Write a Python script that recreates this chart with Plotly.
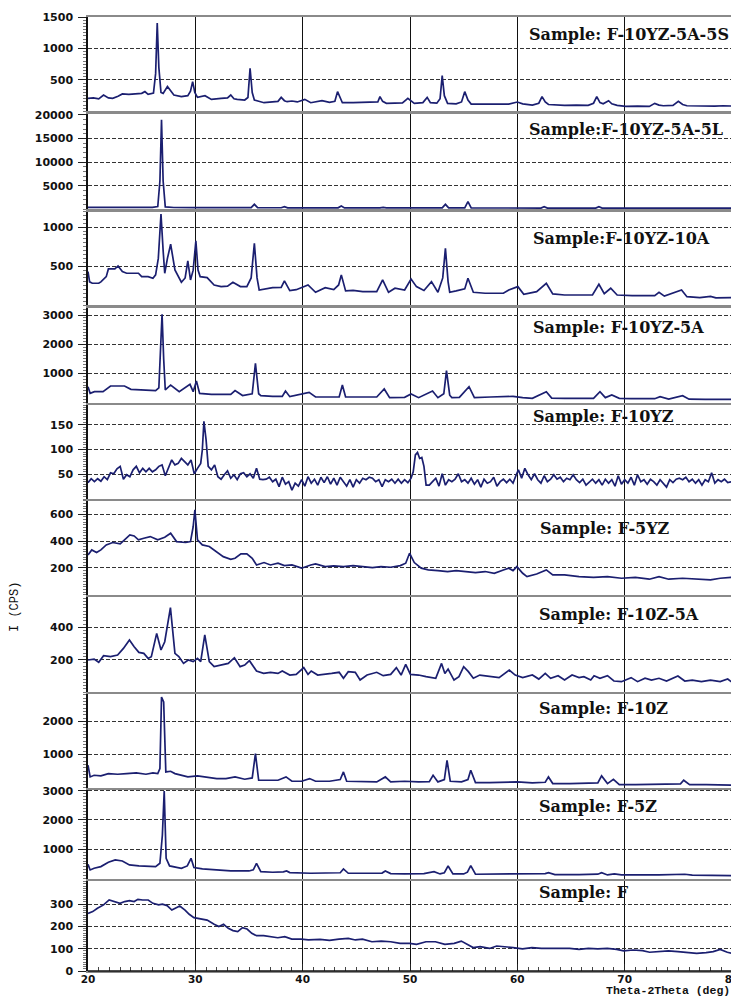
import plotly.graph_objects as go

# ---------------- data: (2theta [deg], intensity [CPS]) ----------------
F_10YZ_5A_5S = [(20.0,207),(20.5,215),(21.0,200),(21.45,260),(21.9,215),(22.3,207),(22.8,240),(23.2,277),(23.8,270),(24.4,280),(25.0,287),(25.3,314),(25.6,270),(26.1,290),(26.3,600),(26.45,1405),(26.6,700),(26.8,300),(27.0,287),(27.4,394),(27.8,300),(28.0,260),(28.7,234),(29.3,250),(29.55,320),(29.75,473),(29.95,300),(30.2,223),(30.9,250),(31.5,190),(32.4,207),(33.0,215),(33.3,260),(33.6,200),(33.9,191),(34.6,181),(34.9,220),(35.1,686),(35.3,300),(35.5,181),(36.4,138),(37.2,154),(37.7,160),(38.0,223),(38.3,170),(38.55,154),(39.0,165),(39.5,150),(40.2,191),(40.75,138),(41.8,170),(42.5,145),(43.0,160),(43.25,314),(43.5,200),(43.7,138),(44.7,138),(45.5,140),(46.4,138),(47.0,150),(47.2,234),(47.45,160),(47.8,128),(48.6,138),(49.3,135),(49.8,207),(50.4,128),(51.2,140),(51.6,223),(51.9,140),(52.5,130),(52.8,200),(53.0,569),(53.2,250),(53.5,128),(54.3,120),(54.8,150),(55.1,314),(55.4,180),(55.7,117),(57.0,117),(58.0,125),(59.2,117),(60.0,149),(60.5,120),(61.4,101),(62.0,130),(62.3,234),(62.6,150),(62.9,110),(64.4,96),(65.5,100),(66.6,96),(67.1,130),(67.4,234),(67.7,140),(68.0,120),(68.5,170),(68.8,120),(69.3,96),(70.1,80),(71.2,85),(72.3,80),(72.8,128),(73.2,100),(73.6,90),(74.5,95),(75.0,160),(75.4,110),(75.8,90),(76.7,85),(77.5,88),(78.4,85),(79.2,90),(80.0,85)]

F_10YZ_5A_5L = [(20.0,400),(22.0,380),(24.0,400),(26.0,420),(26.5,600),(26.7,6000),(26.85,19000),(27.0,6000),(27.2,500),(28.0,380),(30.0,350),(32.0,330),(35.2,340),(35.5,1050),(35.8,340),(38.0,330),(38.3,560),(38.6,320),(40.0,300),(43.3,310),(43.6,700),(43.9,300),(47.2,290),(47.5,420),(47.8,290),(50.0,290),(53.0,300),(53.3,1050),(53.6,290),(55.1,300),(55.4,1620),(55.7,290),(58.0,280),(60.0,290),(62.2,270),(62.5,560),(62.8,270),(65.0,260),(67.3,260),(67.6,560),(67.9,260),(70.0,250),(75.0,250),(80.0,240)]

F_10YZ_10A = [(20.0,431),(20.15,300),(20.4,282),(21.0,282),(21.2,300),(21.7,367),(21.9,465),(22.3,470),(22.5,465),(22.8,504),(23.2,431),(23.6,410),(24.2,410),(24.7,410),(25.0,367),(25.6,367),(26.05,346),(26.3,389),(26.55,600),(26.8,1166),(27.0,700),(27.15,410),(27.4,600),(27.7,781),(28.1,453),(28.7,295),(29.05,350),(29.3,568),(29.55,324),(29.8,450),(30.05,824),(30.25,450),(30.45,367),(31.1,354),(31.75,260),(32.4,239),(33.0,245),(33.5,295),(34.2,240),(34.8,238),(35.2,350),(35.5,794),(35.75,350),(35.95,196),(37.2,226),(38.0,230),(38.3,312),(38.8,188),(39.4,200),(40.5,260),(41.2,167),(42.1,226),(42.9,200),(43.35,260),(43.6,389),(43.85,240),(44.0,184),(44.7,190),(45.6,175),(46.9,175),(47.45,324),(48.0,167),(48.6,218),(49.5,196),(50.1,337),(50.6,239),(51.3,190),(52.0,303),(52.6,167),(53.05,350),(53.3,730),(53.55,300),(53.7,167),(54.3,184),(55.1,210),(55.4,346),(55.9,167),(57.0,154),(58.7,154),(59.2,196),(60.05,239),(60.6,141),(61.8,175),(62.7,282),(63.3,145),(64.4,132),(67.0,132),(67.6,269),(68.1,150),(68.7,218),(69.3,132),(70.7,124),(72.8,124),(73.2,167),(73.7,118),(75.3,196),(75.8,110),(77.0,98),(78.0,115),(78.5,95),(80.0,98)]

F_10YZ_5A = [(20.0,543),(20.2,314),(20.6,371),(21.4,371),(22.1,566),(23.4,566),(24.0,451),(25.0,440),(26.3,406),(26.6,500),(26.8,2000),(26.9,3023),(27.05,1500),(27.2,429),(27.7,600),(28.5,371),(29.5,623),(29.8,371),(30.1,737),(30.4,314),(31.5,280),(33.3,280),(33.7,406),(34.4,240),(35.3,300),(35.6,1343),(35.9,300),(36.1,234),(37.2,211),(38.1,211),(38.4,394),(38.8,200),(40.6,349),(41.2,189),(43.4,189),(43.7,600),(44.0,189),(46.9,189),(47.6,463),(48.1,166),(49.5,178),(50.1,291),(50.8,166),(52.1,394),(52.6,166),(53.15,300),(53.4,1091),(53.7,250),(53.9,166),(54.6,178),(55.5,543),(56.0,166),(57.5,189),(59.6,210),(60.5,170),(61.4,143),(62.7,371),(63.2,150),(64.4,143),(67.1,143),(67.7,371),(68.2,166),(68.8,257),(69.5,143),(70.6,131),(72.8,131),(73.3,200),(74.1,120),(75.4,234),(76.0,115),(77.5,109),(80.0,109)]

F_10YZ = [(20.0,33),(20.3,41),(20.6,35),(20.9,41),(21.2,36),(21.5,45),(21.8,39),(22.1,53),(22.4,51),(22.7,61),(23.0,66),(23.3,40),(23.6,49),(23.9,45),(24.2,59),(24.5,66),(24.8,53),(25.1,62),(25.4,55),(25.7,62),(26.0,55),(26.3,59),(26.6,66),(26.9,69),(27.2,47),(27.5,62),(27.8,79),(28.1,69),(28.4,72),(28.7,82),(29.0,76),(29.3,69),(29.6,79),(29.9,51),(30.2,62),(30.5,72),(30.65,99),(30.8,157),(31.0,120),(31.2,66),(31.5,59),(31.8,69),(32.1,45),(32.4,40),(32.7,49),(33.0,57),(33.3,42),(33.6,49),(33.9,39),(34.2,51),(34.5,53),(34.8,45),(35.1,51),(35.4,42),(35.7,62),(36.0,40),(36.3,39),(36.6,40),(36.9,44),(37.2,35),(37.5,40),(37.8,25),(38.1,44),(38.4,30),(38.7,35),(39.0,18),(39.3,32),(39.6,26),(39.9,39),(40.2,26),(40.5,45),(40.8,32),(41.1,40),(41.4,28),(41.7,44),(42.0,33),(42.3,45),(42.6,30),(42.9,42),(43.2,28),(43.5,44),(43.8,35),(44.1,26),(44.4,39),(44.7,24),(45.0,39),(45.3,32),(45.6,42),(45.9,39),(46.2,44),(46.5,42),(46.8,35),(47.1,39),(47.4,25),(47.7,39),(48.0,35),(48.3,40),(48.6,32),(48.9,40),(49.2,32),(49.5,39),(49.8,33),(50.1,42),(50.3,55),(50.5,89),(50.7,94),(50.9,82),(51.1,84),(51.3,66),(51.5,28),(51.8,28),(52.1,35),(52.4,42),(52.7,26),(53.0,51),(53.3,28),(53.6,39),(53.9,35),(54.2,40),(54.5,51),(54.8,35),(55.1,39),(55.4,32),(55.7,42),(56.0,30),(56.3,39),(56.6,24),(56.9,40),(57.2,32),(57.5,35),(57.8,44),(58.1,26),(58.4,35),(58.7,40),(59.0,33),(59.3,40),(59.6,32),(59.9,49),(60.1,59),(60.4,42),(60.7,62),(61.0,49),(61.3,39),(61.6,51),(61.9,39),(62.2,32),(62.5,47),(62.8,35),(63.1,40),(63.4,49),(63.7,40),(64.0,44),(64.3,35),(64.6,42),(64.9,39),(65.2,49),(65.5,39),(65.8,33),(66.1,40),(66.4,28),(66.7,35),(67.0,40),(67.3,32),(67.6,39),(67.9,28),(68.2,40),(68.5,32),(68.8,39),(69.1,26),(69.4,47),(69.7,30),(70.0,39),(70.3,32),(70.6,44),(70.9,28),(71.2,49),(71.5,35),(71.8,39),(72.1,30),(72.4,40),(72.7,35),(73.0,28),(73.3,39),(73.6,32),(73.9,24),(74.2,39),(74.5,33),(74.8,40),(75.1,42),(75.4,39),(75.7,44),(76.0,35),(76.3,40),(76.6,32),(76.9,39),(77.2,28),(77.5,39),(77.8,35),(78.1,53),(78.4,32),(78.7,39),(79.0,35),(79.3,40),(79.6,33),(80.0,35)]

F_5YZ = [(20.0,297),(20.35,334),(20.8,314),(21.2,334),(21.7,371),(22.3,389),(23.0,379),(23.4,409),(23.9,446),(24.3,438),(24.7,409),(25.2,421),(25.8,433),(26.5,409),(27.15,428),(27.7,458),(28.25,396),(29.1,389),(29.55,396),(29.8,508),(29.96,632),(30.2,409),(30.65,371),(31.3,359),(32.0,322),(32.6,284),(33.3,264),(33.7,272),(34.25,304),(34.8,304),(35.3,272),(35.7,222),(36.4,240),(37.0,222),(37.7,235),(38.3,217),(39.0,222),(39.9,198),(40.75,222),(41.2,230),(42.1,210),(42.9,215),(43.8,210),(44.7,217),(45.6,210),(46.5,202),(47.3,210),(48.2,205),(49.1,217),(49.6,235),(49.96,309),(50.4,240),(51.05,198),(51.7,185),(52.6,180),(53.5,173),(54.3,180),(55.2,173),(56.1,165),(57.0,173),(57.85,160),(58.7,185),(59.2,198),(59.6,180),(59.96,210),(60.5,160),(60.9,135),(61.8,155),(62.7,185),(63.3,148),(64.4,148),(65.75,135),(67.1,130),(68.4,135),(69.7,123),(71.0,130),(72.3,116),(73.2,135),(74.1,116),(75.4,123),(76.7,116),(78.0,111),(78.9,123),(80.0,130)]

F_10Z_5A = [(20.0,198),(20.57,204),(21.0,184),(21.45,225),(22.1,219),(22.76,229),(23.3,270),(23.86,322),(24.3,280),(24.74,245),(25.2,239),(25.6,208),(25.9,219),(26.4,363),(26.8,260),(27.15,311),(27.68,522),(28.1,239),(28.46,219),(28.9,177),(29.34,198),(29.8,188),(30.2,208),(30.5,188),(30.88,353),(31.3,188),(31.75,157),(32.4,167),(33.07,177),(33.64,212),(34.17,157),(34.6,167),(35.04,194),(35.7,130),(36.36,115),(37.0,122),(37.7,115),(38.1,130),(38.8,105),(39.4,109),(40.1,151),(40.5,109),(40.8,130),(41.4,105),(42.06,109),(42.7,115),(43.4,122),(43.8,85),(44.25,126),(44.9,122),(45.35,74),(46.0,105),(46.9,122),(47.5,101),(48.2,109),(48.73,151),(49.17,105),(49.6,171),(50.04,109),(50.8,105),(51.5,95),(52.4,85),(52.94,177),(53.25,115),(53.55,142),(54.1,74),(54.56,95),(55.0,157),(55.44,126),(55.9,85),(56.5,105),(57.4,95),(58.3,89),(59.25,136),(59.8,105),(60.5,89),(61.4,105),(62.0,80),(62.6,115),(63.1,85),(63.8,101),(64.4,74),(65.1,105),(65.75,89),(66.2,95),(66.84,74),(67.15,101),(67.7,85),(68.4,101),(69.0,68),(69.7,64),(70.6,89),(71.2,64),(71.9,85),(72.5,74),(73.2,85),(73.9,68),(74.96,99),(75.6,68),(76.3,74),(77.15,64),(78.0,74),(78.9,64),(79.6,80),(80.0,60)]

F_10Z = [(20.0,680),(20.2,330),(20.57,380),(21.2,360),(21.9,430),(22.76,410),(23.6,430),(24.5,450),(25.4,410),(26.05,450),(26.5,430),(26.7,580),(26.85,2730),(27.05,2580),(27.25,480),(27.7,500),(28.1,430),(28.7,380),(29.3,330),(30.2,360),(31.1,330),(32.0,280),(32.85,280),(33.7,330),(34.6,260),(35.3,300),(35.6,1030),(35.9,230),(36.8,230),(37.7,230),(38.45,330),(39.0,200),(39.9,200),(40.65,280),(41.2,200),(42.5,200),(43.5,250),(43.8,480),(44.1,200),(45.6,200),(46.9,180),(47.7,330),(48.2,180),(49.5,200),(50.8,180),(51.8,190),(52.15,380),(52.6,180),(53.2,250),(53.45,830),(53.75,200),(54.8,180),(55.4,250),(55.66,530),(56.1,160),(57.4,160),(58.7,160),(60.0,180),(61.4,150),(62.6,170),(62.9,330),(63.3,130),(64.9,130),(66.6,130),(67.5,150),(67.85,360),(68.4,130),(68.95,260),(69.5,100),(71.0,100),(73.2,110),(74.5,100),(75.2,120),(75.5,230),(76.05,100),(77.6,100),(80.0,80)]

F_5Z = [(20.0,488),(20.2,295),(20.57,352),(21.2,409),(21.9,557),(22.54,636),(23.2,602),(23.86,466),(24.74,432),(25.6,409),(26.3,409),(26.7,523),(26.93,1488),(27.1,2988),(27.28,693),(27.6,432),(28.0,409),(28.7,352),(29.25,432),(29.6,693),(29.87,375),(30.66,329),(31.97,295),(33.3,261),(35.0,261),(35.4,300),(35.7,523),(36.1,239),(37.2,216),(38.2,230),(38.5,261),(38.8,204),(40.75,182),(42.5,182),(43.5,200),(43.8,329),(44.25,182),(46.0,182),(47.4,190),(47.7,261),(48.2,170),(49.5,159),(51.3,170),(52.24,239),(52.8,159),(53.2,200),(53.55,432),(54.0,159),(55.0,159),(55.35,220),(55.66,443),(56.1,148),(57.85,148),(60.0,148),(61.4,148),(62.6,170),(62.9,204),(63.5,136),(65.75,136),(67.5,150),(67.85,204),(68.4,125),(69.04,159),(69.7,125),(73.2,125),(75.4,130),(75.6,148),(76.3,120),(80.0,102)]

F = [(20.0,258),(20.44,266),(20.88,281),(21.45,296),(21.97,318),(22.54,308),(22.98,303),(23.42,311),(23.86,315),(24.3,311),(24.65,321),(25.09,318),(25.61,318),(26.05,303),(26.58,296),(26.93,299),(27.37,293),(27.81,273),(28.11,281),(28.55,291),(29.04,273),(29.43,254),(29.87,239),(30.44,233),(31.1,228),(31.75,209),(32.19,199),(32.63,209),(33.07,191),(33.51,181),(33.95,176),(34.39,194),(34.82,188),(35.26,169),(35.7,158),(36.36,158),(37.02,154),(37.68,149),(38.33,154),(38.99,143),(39.87,143),(40.53,139),(41.62,142),(42.5,137),(43.38,143),(44.25,146),(44.91,139),(45.57,143),(46.45,131),(47.32,134),(48.2,131),(49.08,124),(49.96,124),(50.61,119),(51.49,131),(52.37,131),(53.25,119),(54.12,124),(54.78,134),(55.44,116),(55.88,105),(56.54,109),(57.41,101),(58.07,112),(58.95,109),(59.61,105),(60.48,99),(61.36,105),(62.24,101),(63.11,101),(63.99,99),(64.87,101),(65.75,97),(66.62,101),(67.5,99),(68.38,101),(69.25,97),(69.91,90),(70.79,94),(71.67,91),(72.32,84),(72.98,87),(74.08,90),(74.96,87),(75.83,82),(76.71,79),(77.59,82),(78.25,87),(78.9,97),(79.56,84),(80.0,79)]

sample_labels = ["Sample: F-10YZ-5A-5S", "Sample:F-10YZ-5A-5L", "Sample:F-10YZ-10A",
                 "Sample: F-10YZ-5A", "Sample: F-10YZ", "Sample: F-5YZ",
                 "Sample: F-10Z-5A", "Sample: F-10Z", "Sample: F-5Z", "Sample: F"]
series = [F_10YZ_5A_5S, F_10YZ_5A_5L, F_10YZ_10A, F_10YZ_5A, F_10YZ, F_5YZ,
          F_10Z_5A, F_10Z, F_5Z, F]
y_max = [1500, 20200, 1200, 3240, 190, 700, 588, 2830, 3040, 403]
y_tickvals = [[500, 1000, 1500], [5000, 10000, 15000, 20000], [500, 1000],
              [1000, 2000, 3000], [50, 100, 150], [200, 400, 600], [200, 400],
              [1000, 2000], [1000, 2000, 3000], [0, 100, 200, 300]]
y_minor = [50, 1000, 50, 100, 5, 20, 20, 100, 100, 10]
x_ticks = [20, 30, 40, 50, 60, 70, 80]

# ---------------- layout geometry ----------------
# The page body has an 8px default margin, so the figure is sized/positioned to
# put the plot area at page pixels x 88..732, y 17..971.
BODY = 8
W, H = 739 - BODY, 996 - BODY
ML, MR, MT, MB = 88 - BODY, 7, 17 - BODY, 25
PH = H - MT - MB              # 954
PW = W - ML - MR              # 644
BOTTOM = 971                  # page pixel of the plot-area bottom
panel_px = [(17, 111.4), (114, 209.3), (211.5, 305.3), (308, 402.5), (405, 499),
            (500.7, 594.8), (597, 692), (693.7, 787.9), (789.5, 878.6), (881, 971)]
label_px_y = [35, 129, 238, 327, 416, 528, 614, 708, 806, 892]
label_x = [60.9, 60.9, 61.3, 61.3, 61.3, 61.9, 61.85, 61.85, 61.85, 61.85]


def fy(ypx):
    return (BOTTOM - ypx) / PH


def fx(xpx):
    return (xpx - 88) / PW


LINE_COLOR = "#1b1f70"
tick_font = dict(family="DejaVu Sans", size=11, color="#111111", weight="bold")
xtick_font = dict(family="DejaVu Sans", size=10.5, color="#111111", weight="bold")

fig = go.Figure()
layout = dict(width=W, height=H, margin=dict(l=ML, r=MR, t=MT, b=MB, autoexpand=False),
              paper_bgcolor="white", plot_bgcolor="white", showlegend=False)

n = len(series)
annotations = []
for i in range(n):
    k = i + 1
    xs = [p[0] for p in series[i]]
    ys = [p[1] for p in series[i]]
    fig.add_trace(go.Scatter(x=xs, y=ys, mode="lines",
                             line=dict(color=LINE_COLOR, width=1.7),
                             xaxis=f"x{k}", yaxis=f"y{k}", hoverinfo="skip"))
    top, bot = panel_px[i]
    is_bottom = (i == n - 1)
    xa = dict(domain=[0, 1], anchor=f"y{k}", range=[20, 80], automargin=False,
              tickvals=x_ticks, showgrid=True, gridcolor="#111111", gridwidth=1,
              showline=True, mirror=True, linecolor="#8a8a8a", linewidth=2,
              zeroline=False, showticklabels=is_bottom, tickfont=xtick_font,
              ticklabeloverflow="allow")
    if is_bottom:
        xa.update(ticks="inside", ticklen=7, tickcolor="#222", ticklabelstandoff=-3,
                  minor=dict(dtick=1, ticks="inside", ticklen=4, tickcolor="#444"))
    else:
        xa.update(ticks="")
    ya = dict(domain=[fy(bot), fy(top)], anchor=f"x{k}", range=[0, y_max[i]],
              automargin=False, tickformat="d",
              tickvals=y_tickvals[i], ticks="outside", ticklen=8, tickcolor="#222",
              ticklabelstandoff=3,
              showgrid=True, gridcolor="#333333", gridwidth=1, griddash="4px,2px",
              showline=True, linecolor="#111111", linewidth=1.5, zeroline=False,
              tickfont=tick_font,
              minor=dict(dtick=y_minor[i], ticks="outside", ticklen=3,
                         tickcolor="#777", showgrid=False))
    layout["xaxis" if k == 1 else f"xaxis{k}"] = xa
    layout["yaxis" if k == 1 else f"yaxis{k}"] = ya
    annotations.append(dict(text=sample_labels[i], xref=f"x{k}", yref="paper",
                            x=label_x[i], y=fy(label_px_y[i]), xanchor="left",
                            yanchor="middle", showarrow=False,
                            font=dict(family="DejaVu Serif", size=16, color="#111111",
                                      weight="bold")))

annotations.append(dict(text="Theta-2Theta (deg)", xref="paper", yref="paper",
                        x=1.0, y=fy(991), xanchor="right", yanchor="middle",
                        showarrow=False,
                        font=dict(family="Liberation Mono", size=11.5, color="#111111",
                                  weight="bold")))
annotations.append(dict(text="I (CPS)", xref="paper", yref="paper",
                        x=fx(15), y=fy(607), xanchor="center",
                        yanchor="middle", textangle=-90, showarrow=False,
                        font=dict(family="Liberation Mono", size=12, color="#111111")))
layout["annotations"] = annotations
layout["shapes"] = [dict(type="line", xref="paper", yref="paper", x0=0, x1=1, y0=0, y1=0,
                         line=dict(color="#111111", width=1.5))]
fig.update_layout(**layout)
fig.write_html("out.html")
